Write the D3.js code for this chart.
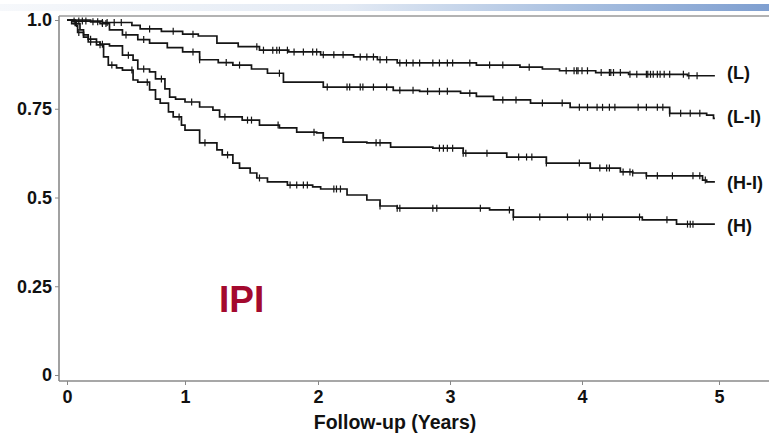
<!DOCTYPE html>
<html><head><meta charset="utf-8">
<script src="https://cdn.jsdelivr.net/npm/d3@7"></script>
<style>
html,body{margin:0;padding:0;background:#fff;}
svg{display:block;}
text{font-family:"Liberation Sans",Arial,sans-serif;font-weight:bold;}
</style></head>
<body><svg id="c" width="769" height="437"></svg>
<script>
// ---- data ----
const xTicks = [0, 1, 2, 3, 4, 5];
const yTicks = [0, 0.25, 0.5, 0.75, 1.0];
const yTickLabels = ["0", "0.25", "0.5", "0.75", "1.0"];
const seriesNames = ["(L)", "(L-I)", "(H-I)", "(H)"];
const endTime = 4.97;

// step drops: [time (years), survival after drop]
const stepsL = [[0.05,0.997],[0.3,0.993],[0.55,0.985],[0.62,0.975],[0.8,0.968],[0.98,0.96],[1.1,0.955],[1.24,0.935],[1.4,0.925],[1.56,0.915],[1.78,0.91],[2.02,0.902],[2.27,0.896],[2.45,0.888],[2.6,0.879],[3.2,0.873],[3.53,0.867],[3.7,0.862],[3.83,0.857],[4.1,0.852],[4.34,0.847],[4.77,0.843]];
const stepsLI = [[0.2,0.995],[0.28,0.99],[0.36,0.972],[0.47,0.958],[0.6,0.945],[0.7,0.935],[0.85,0.922],[0.98,0.91],[1.11,0.888],[1.25,0.88],[1.36,0.873],[1.5,0.862],[1.62,0.85],[1.74,0.825],[2.04,0.811],[2.57,0.802],[2.77,0.799],[3.08,0.794],[3.2,0.785],[3.33,0.775],[3.61,0.766],[3.91,0.754],[4.64,0.737],[4.91,0.732],[4.96,0.723]];
const stepsHI = [[0.07,0.985],[0.09,0.965],[0.14,0.958],[0.18,0.938],[0.28,0.932],[0.36,0.927],[0.47,0.901],[0.56,0.887],[0.6,0.862],[0.7,0.854],[0.75,0.834],[0.83,0.806],[0.87,0.783],[0.92,0.777],[1.0,0.769],[1.11,0.755],[1.21,0.746],[1.26,0.727],[1.43,0.718],[1.56,0.704],[1.71,0.696],[1.84,0.684],[1.99,0.682],[2.04,0.668],[2.19,0.656],[2.37,0.654],[2.55,0.642],[2.87,0.639],[3.1,0.625],[3.43,0.614],[3.73,0.597],[4.06,0.583],[4.28,0.572],[4.37,0.569],[4.47,0.561],[4.88,0.549],[4.91,0.544]];
const stepsH = [[0.04,0.99],[0.11,0.972],[0.14,0.952],[0.18,0.946],[0.25,0.93],[0.31,0.896],[0.35,0.873],[0.42,0.865],[0.47,0.859],[0.56,0.831],[0.6,0.825],[0.7,0.803],[0.75,0.777],[0.79,0.766],[0.86,0.741],[0.9,0.727],[0.97,0.704],[1.0,0.69],[1.11,0.654],[1.24,0.634],[1.28,0.62],[1.36,0.597],[1.41,0.583],[1.49,0.569],[1.54,0.555],[1.62,0.544],[1.77,0.535],[1.96,0.53],[2.02,0.524],[2.22,0.507],[2.37,0.493],[2.47,0.476],[2.6,0.47],[3.3,0.465],[3.48,0.445],[4.44,0.437],[4.69,0.425]];

// censored observation times
const censL = [0.06,0.1,0.13,0.16,0.3,0.34,0.4,0.46,0.7,0.9,1.06,1.54,1.59,1.66,1.69,1.71,1.77,1.82,1.89,1.96,1.99,2.04,2.12,2.19,2.32,2.37,2.42,2.47,2.52,2.62,2.67,2.72,2.77,2.87,2.92,2.98,3.02,3.15,3.3,3.4,3.6,3.88,3.94,3.96,3.97,4.0,4.04,4.14,4.2,4.21,4.23,4.28,4.35,4.4,4.47,4.48,4.5,4.52,4.55,4.57,4.6,4.64,4.74,4.78,4.84];
const censLI = [0.22,0.26,0.3,0.33,0.5,0.65,1.06,1.11,1.31,1.41,1.71,2.07,2.22,2.24,2.32,2.34,2.42,2.52,2.62,2.72,2.83,2.92,2.98,3.15,3.4,3.5,3.7,3.85,3.98,4.04,4.11,4.15,4.2,4.24,4.41,4.47,4.55,4.59,4.64,4.72,4.79,4.86];
const censHI = [0.1,0.2,0.3,0.52,0.65,0.8,1.05,1.3,1.47,1.5,1.7,1.97,2.04,2.44,2.47,2.92,2.95,2.98,3.02,3.1,3.12,3.28,3.52,3.58,3.62,3.73,3.98,4.13,4.18,4.2,4.3,4.35,4.37,4.47,4.55,4.66,4.81,4.86,4.9];
const censH = [0.08,0.2,0.28,0.38,0.55,0.68,0.95,1.15,1.32,1.56,1.79,1.84,1.89,1.92,2.12,2.14,2.17,2.47,2.6,2.62,2.87,2.9,3.23,3.45,3.48,3.68,3.89,4.04,4.06,4.15,4.42,4.62,4.77,4.79,4.81];

const allSteps = [stepsL, stepsLI, stepsHI, stepsH];
const allCens = [censL, censLI, censHI, censH];

// ---- drawing ----
const svg = d3.select("#c");
const x = d3.scaleLinear().domain(xTicks).range([67, 185, 318, 450, 582, 719]);
const y = d3.scaleLinear().domain([0, 1]).range([375, 20]);
const frameL = 59, frameT = 16, frameB = 381, frameR = 769;

// slide header band
const defs = svg.append("defs");
const g1 = defs.append("linearGradient").attr("id","band").attr("x1","0").attr("x2","1");
g1.append("stop").attr("offset","0%").attr("stop-color","#f6f8fb");
g1.append("stop").attr("offset","45%").attr("stop-color","#e3eaf4");
g1.append("stop").attr("offset","75%").attr("stop-color","#a9c0e0");
g1.append("stop").attr("offset","100%").attr("stop-color","#7f9fd0");
svg.append("rect").attr("x",0).attr("y",4).attr("width",769).attr("height",7).attr("fill","url(#band)");

// frame
svg.append("line").attr("x1",frameL).attr("x2",frameR).attr("y1",frameT).attr("y2",frameT)
  .attr("stroke","#9a9a9a").attr("stroke-width",1.6);
svg.append("line").attr("x1",frameL).attr("x2",frameL).attr("y1",frameT).attr("y2",frameB)
  .attr("stroke","#8a8a8a").attr("stroke-width",1.6);
svg.append("line").attr("x1",frameL).attr("x2",frameR).attr("y1",frameB).attr("y2",frameB)
  .attr("stroke","#8a8a8a").attr("stroke-width",1.6);

// axes
const yAxis = svg.append("g").attr("transform",`translate(${frameL},0)`)
  .call(d3.axisLeft(y).tickValues(yTicks).tickFormat((d,i)=>yTickLabels[i]).tickSize(4).tickPadding(3));
const xAxis = svg.append("g").attr("transform",`translate(0,${frameB})`)
  .call(d3.axisBottom(x).tickValues(xTicks).tickFormat(d3.format("d")).tickSize(4).tickPadding(5));
[yAxis, xAxis].forEach(a=>{
  a.select(".domain").remove();
  a.selectAll(".tick line").attr("stroke","#888");
  a.selectAll(".tick text").attr("fill","#111").style("font-size","18px").style("font-family","'Liberation Sans',Arial,sans-serif").style("font-weight","bold");
});

svg.append("text").attr("x", 395).attr("y", 429).attr("text-anchor","middle")
  .style("font-size","19.5px").attr("fill","#111").text("Follow-up (Years)");

// curves
function pts(steps){
  const p = [[0,1]];
  steps.forEach(s=>p.push(s));
  p.push([endTime, steps[steps.length-1][1]]);
  return p;
}
function survAt(steps, t){
  let s = 1;
  for (const st of steps){ if (st[0] <= t) s = st[1]; else break; }
  return s;
}
const line = d3.line().x(d=>x(d[0])).y(d=>y(d[1])).curve(d3.curveStepAfter);
allSteps.forEach((steps, i)=>{
  svg.append("path").attr("d", line(pts(steps))).attr("fill","none")
    .attr("stroke","#151515").attr("stroke-width",1.7);
  svg.append("g").selectAll("line").data(allCens[i]).join("line")
    .attr("x1",d=>x(d)).attr("x2",d=>x(d))
    .attr("y1",d=>y(survAt(steps,d))-3.5).attr("y2",d=>y(survAt(steps,d))+3.5)
    .attr("stroke","#151515").attr("stroke-width",1.2);
});

// end labels
const labelY = [79, 123, 189, 232];
seriesNames.forEach((n,i)=>{
  svg.append("text").attr("x",727).attr("y",labelY[i]).style("font-size","18px").attr("fill","#111").text(n);
});

// IPI
svg.append("text").attr("x",219).attr("y",312).style("font-size","37px").attr("fill","#a3092e").text("IPI");
</script></body></html>
